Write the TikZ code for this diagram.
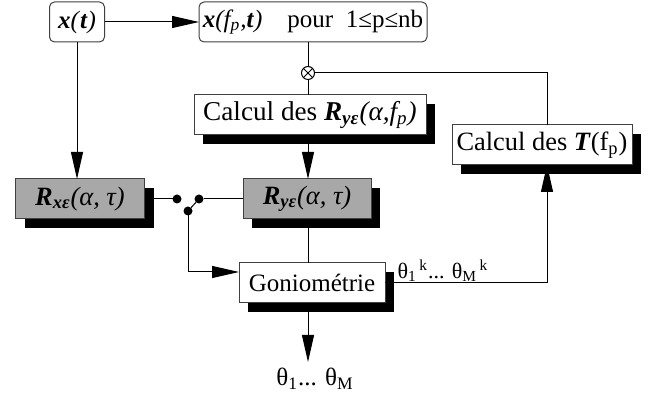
\documentclass[tikz,border=0pt]{standalone}
\usepackage{fontspec}
\setmainfont{Liberation Serif}
\usetikzlibrary{arrows.meta,shadows}
\definecolor{boxgray}{gray}{0.66}
\newcommand{\bi}[1]{\textbf{\textit{#1}}}
\newcommand{\sbs}[1]{\textsubscript{#1}}
\begin{document}
\begin{tikzpicture}[x=0.5pt,y=-0.5pt,inner sep=0pt,outer sep=0pt,line width=0.5pt,
font=\fontsize{12.5}{14}\selectfont,
>={Triangle[length=13.5pt,width=6pt]},
rbox/.style={draw=black!75,rounded corners=2.5pt,fill=white,minimum height=20pt},
sbox/.style={draw=black!75,fill=white,minimum height=20pt,
  drop shadow={shadow xshift=4.5pt,shadow yshift=-4.5pt,opacity=1,fill=black}},
gbox/.style={sbox,fill=boxgray},
swdot/.style={circle,fill=black,minimum size=4.5pt}]
\useasboundingbox (0,0) rectangle (658,394);
\draw (77,22) node[rbox,minimum width=27.5pt] (xt) {\bi{x}\textit{(}\bi{t}\textit{)}};
\draw (313,22) node[rbox,minimum width=114pt] (xf) {\bi{x}\textit{(f\sbs{p},}\bi{t}\textit{)}\quad pour\ \ 1≤p≤nb};
\draw (308,73) node[draw,circle,minimum size=6.5pt] (mult) {};
\draw (mult.45) -- (mult.225) (mult.135) -- (mult.315);
\draw (310,115) node[sbox,minimum width=116pt,font=\fontsize{13.6}{15}\selectfont] (CalcR) {Calcul des \bi{R}\sbs{\bi{yε}}\textit{(α,f\sbs{p})}};
\draw (542,145) node[sbox,minimum width=90pt,font=\fontsize{13.2}{15}\selectfont] (CalcT) {Calcul des \bi{T}(f\sbs{p})};
\draw (80,199) node[gbox,minimum width=64.5pt,font=\fontsize{13.2}{15}\selectfont] (Rxe) {\bi{R}\sbs{\bi{xε}}\textit{(α, τ)}};
\draw (307,199) node[gbox,minimum width=64pt,font=\fontsize{13.2}{15}\selectfont] (Rye) {\bi{R}\sbs{\bi{yε}}\textit{(α, τ)}};
\draw (312,283) node[sbox,minimum width=73pt] (Gonio) {Goniométrie};
\draw (177,199) node[swdot] (swL) {};
\draw (199,199) node[swdot] (swR) {};
\draw (188,211) node[swdot] (swP) {};
\coordinate (out) at (308,362);
\draw (315,379) node (thetaOut) {θ\sbs{1}... θ\sbs{M}};
\draw (443,271) node[font=\fontsize{11}{13}\selectfont] (thetaK) {θ\sbs{1}\textsuperscript{\,k}... θ\sbs{M}\textsuperscript{\,k}};
% connectors
\draw[->] (xt) -- (xf);
\draw[->] (xt) -- (xt |- Rxe.north);
\draw (mult |- xf.south) -- (mult.north);
\draw (mult.south) -- (mult |- CalcR.north);
\draw (mult.east) -| ([xshift=2.5pt]CalcT.north);
\draw[->] (mult |- CalcR.south) -- (mult |- Rye.north);
\draw (Rxe.east) -- (swL);
\draw (swR) -- (Rye.west);
\draw (swP) -- (swR);
\draw[->] (swP) |- ([yshift=5.5pt]Gonio.west);
\draw (mult |- Rye.south) -- (mult |- Gonio.north);
\draw[->] (Gonio.east) -| ([xshift=2.5pt]CalcT.south);
\draw[->] (mult |- Gonio.south) -- (out);
\end{tikzpicture}
\end{document}
